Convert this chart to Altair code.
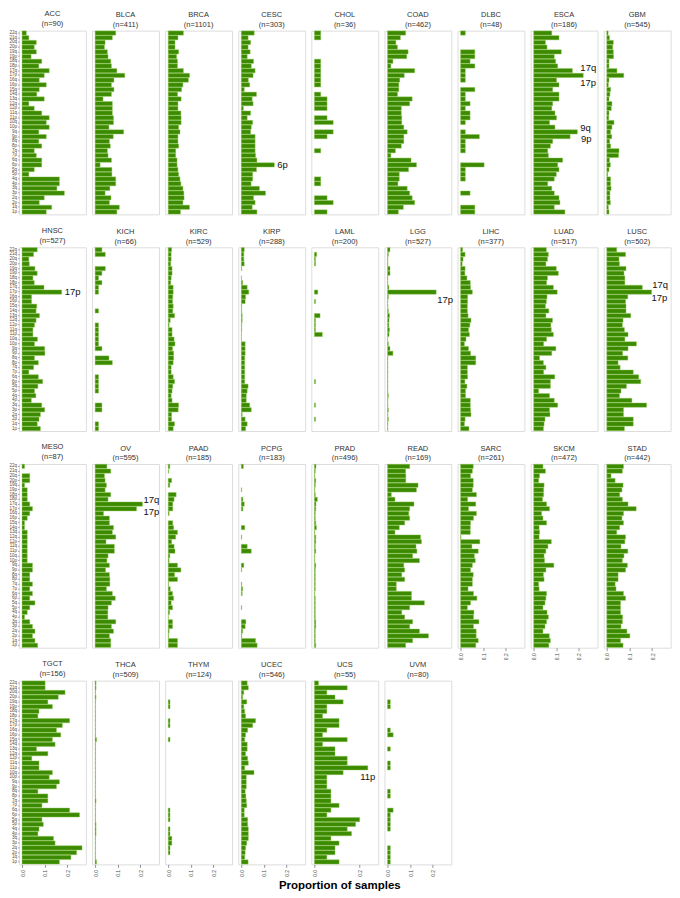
import altair as alt
import pandas as pd

ARMS_TOP = ["22q", "21q", "20q", "20p", "19q", "19p", "18q", "18p", "17q", "17p",
            "16q", "16p", "15q", "14q", "13q", "12q", "12p", "11q", "11p", "10q",
            "10p", "9q", "9p", "8q", "8p", "7q", "7p", "6q", "6p", "5q",
            "5p", "4q", "4p", "3q", "3p", "2q", "2p", "1q", "1p"]

CANCERS = ["ACC", "BLCA", "BRCA", "CESC", "CHOL", "COAD", "DLBC", "ESCA", "GBM",
           "HNSC", "KICH", "KIRC", "KIRP", "LAML", "LGG", "LIHC", "LUAD", "LUSC",
           "MESO", "OV", "PAAD", "PCPG", "PRAD", "READ", "SARC", "SKCM", "STAD",
           "TGCT", "THCA", "THYM", "UCEC", "UCS", "UVM"]
N_SAMPLES = [90, 411, 1101, 303, 36, 462, 48, 186, 545,
             527, 66, 529, 288, 200, 527, 377, 517, 502,
             87, 595, 185, 183, 496, 169, 261, 472, 442,
             156, 509, 124, 546, 55, 80]

# proportions per arm, listed from 22q (top) down to 1p (bottom)
ACC = [0.019, 0.030, 0.063, 0.054, 0.063, 0.040, 0.087, 0.074, 0.120, 0.098,
       0.076, 0.107, 0.076, 0.065, 0.098, 0.030, 0.054, 0.087, 0.120, 0.107,
       0.120, 0.074, 0.107, 0.074, 0.087, 0.054, 0.063, 0.087, 0.087, 0.054,
       0.030, 0.165, 0.165, 0.154, 0.187, 0.098, 0.076, 0.131, 0.107]
BLCA = [0.091, 0.076, 0.044, 0.041, 0.054, 0.057, 0.069, 0.072, 0.096, 0.131,
        0.083, 0.072, 0.083, 0.072, 0.035, 0.076, 0.076, 0.076, 0.081, 0.081,
        0.061, 0.126, 0.080, 0.063, 0.067, 0.054, 0.057, 0.072, 0.022, 0.074,
        0.074, 0.091, 0.091, 0.065, 0.044, 0.070, 0.063, 0.107, 0.096]
BRCA = [0.067, 0.043, 0.030, 0.030, 0.046, 0.037, 0.041, 0.041, 0.067, 0.094,
        0.089, 0.065, 0.059, 0.041, 0.057, 0.043, 0.043, 0.056, 0.057, 0.057,
        0.046, 0.052, 0.043, 0.043, 0.046, 0.033, 0.033, 0.039, 0.039, 0.043,
        0.046, 0.052, 0.056, 0.065, 0.069, 0.070, 0.065, 0.094, 0.054]
CESC = [0.057, 0.030, 0.041, 0.030, 0.039, 0.026, 0.054, 0.044, 0.061, 0.052,
        0.031, 0.037, 0.013, 0.067, 0.048, 0.052, 0.009, 0.041, 0.026, 0.050,
        0.044, 0.041, 0.061, 0.061, 0.061, 0.061, 0.063, 0.069, 0.146, 0.067,
        0.050, 0.050, 0.043, 0.080, 0.107, 0.054, 0.061, 0.048, 0.069]
CHOL = [0.028, 0.028, 0, 0, 0, 0, 0.028, 0.028, 0.028, 0.028,
        0.028, 0.028, 0, 0.028, 0.056, 0.056, 0.056, 0, 0.056, 0.083,
        0, 0.083, 0.056, 0, 0, 0.028, 0, 0, 0, 0,
        0, 0.028, 0.028, 0, 0, 0.056, 0.083, 0, 0.056]
COAD = [0.080, 0.057, 0.037, 0.044, 0.091, 0.085, 0.024, 0.015, 0.120, 0.074,
        0.054, 0.050, 0.050, 0.044, 0.109, 0.098, 0.061, 0.061, 0.063, 0.063,
        0.072, 0.087, 0.072, 0.072, 0.061, 0.035, 0.015, 0.104, 0.128, 0.093,
        0.052, 0.052, 0.046, 0.087, 0.098, 0.109, 0.120, 0.070, 0.048]
DLBC = [0.021, 0, 0, 0, 0.063, 0.063, 0.042, 0.063, 0.021, 0.021,
        0.021, 0, 0.063, 0.021, 0.021, 0.042, 0.021, 0.042, 0.042, 0.021,
        0, 0.021, 0.083, 0.021, 0.021, 0.021, 0, 0, 0.104, 0.021,
        0.021, 0.021, 0, 0, 0.042, 0, 0, 0.063, 0.063]
ESCA = [0.080, 0.112, 0.052, 0.059, 0.122, 0.091, 0.097, 0.106, 0.171, 0.219,
        0.101, 0.112, 0.084, 0.112, 0.112, 0.084, 0.080, 0.094, 0.101, 0.070,
        0.094, 0.193, 0.161, 0.084, 0.074, 0.062, 0.065, 0.128, 0.106, 0.112,
        0.100, 0.091, 0.062, 0.080, 0.091, 0.112, 0.116, 0.091, 0.138]
GBM = [0.006, 0.012, 0.029, 0.026, 0.029, 0.030, 0.010, 0.010, 0.045, 0.075,
       0.010, 0.007, 0.017, 0.014, 0.010, 0.023, 0.020, 0.010, 0.009, 0.032,
       0.023, 0.017, 0.022, 0.013, 0.017, 0.054, 0.052, 0.012, 0.016, 0.010,
       0.004, 0.017, 0.017, 0.019, 0.014, 0.014, 0.016, 0.007, 0.010]
HNSC = [0.067, 0.051, 0.030, 0.032, 0.057, 0.067, 0.048, 0.054, 0.097, 0.175,
        0.042, 0.042, 0.065, 0.062, 0.077, 0.062, 0.055, 0.048, 0.048, 0.068,
        0.055, 0.100, 0.101, 0.055, 0.072, 0.051, 0.030, 0.072, 0.091, 0.070,
        0.055, 0.061, 0.041, 0.087, 0.100, 0.081, 0.075, 0.067, 0.081]
KICH = [0.030, 0.045, 0, 0, 0.045, 0.030, 0.015, 0.030, 0.015, 0.015,
        0, 0, 0, 0.015, 0, 0, 0.015, 0.015, 0.015, 0.015,
        0.015, 0.030, 0, 0.061, 0.076, 0, 0, 0.015, 0.015, 0.015,
        0.015, 0, 0, 0.030, 0.030, 0, 0, 0.015, 0.015]
KIRC = [0.015, 0.013, 0.013, 0.011, 0.017, 0.017, 0.013, 0.011, 0.022, 0.022,
        0.020, 0.019, 0.022, 0.020, 0.028, 0.009, 0.004, 0.017, 0.017, 0.026,
        0.030, 0.019, 0.024, 0.024, 0.022, 0.013, 0.013, 0.022, 0.028, 0.020,
        0.017, 0.013, 0.017, 0.046, 0.044, 0.015, 0.015, 0.028, 0.022]
KIRP = [0.013, 0.011, 0.011, 0.013, 0.002, 0, 0.001, 0.006, 0.026, 0.033,
        0.019, 0.017, 0.002, 0.002, 0.004, 0.004, 0.002, 0.002, 0.001, 0.001,
        0.017, 0.017, 0.017, 0.015, 0.015, 0.015, 0.015, 0.015, 0.015, 0.030,
        0.026, 0.022, 0.022, 0.037, 0.044, 0.004, 0.017, 0.026, 0.019]
LAML = [0, 0.010, 0.005, 0.005, 0, 0, 0, 0, 0, 0.015,
        0, 0.005, 0, 0, 0.025, 0.005, 0.005, 0.005, 0.035, 0,
        0, 0, 0, 0, 0, 0, 0, 0, 0.005, 0,
        0, 0, 0, 0.005, 0, 0, 0.005, 0, 0]
LGG = [0.011, 0.004, 0.002, 0.002, 0.011, 0.011, 0.002, 0.002, 0.006, 0.215,
       0.004, 0.002, 0.002, 0.004, 0.009, 0.007, 0.006, 0.009, 0.007, 0.001,
       0.004, 0.011, 0.024, 0.002, 0.002, 0.002, 0.002, 0.002, 0.002, 0.002,
       0.002, 0.004, 0.002, 0.002, 0.004, 0.002, 0.004, 0.002, 0.002]
LIHC = [0.009, 0.020, 0.011, 0.007, 0.020, 0.019, 0.028, 0.043, 0.044, 0.052,
        0.031, 0.031, 0.030, 0.030, 0.033, 0.046, 0.041, 0.035, 0.039, 0.024,
        0.017, 0.035, 0.044, 0.067, 0.067, 0.030, 0.030, 0.031, 0.019, 0.028,
        0.022, 0.022, 0.043, 0.043, 0.044, 0.046, 0.020, 0.017, 0.037]
LUAD = [0.056, 0.065, 0.061, 0.054, 0.100, 0.109, 0.061, 0.057, 0.087, 0.104,
        0.059, 0.056, 0.052, 0.067, 0.054, 0.083, 0.076, 0.078, 0.087, 0.057,
        0.044, 0.098, 0.080, 0.026, 0.043, 0.054, 0.044, 0.093, 0.074, 0.074,
        0.022, 0.070, 0.091, 0.106, 0.070, 0.072, 0.050, 0.046, 0.043]
LUSC = [0.044, 0.083, 0.054, 0.056, 0.085, 0.076, 0.080, 0.080, 0.157, 0.198,
        0.093, 0.083, 0.085, 0.085, 0.106, 0.072, 0.069, 0.078, 0.094, 0.080,
        0.131, 0.094, 0.070, 0.093, 0.050, 0.059, 0.117, 0.141, 0.150, 0.087,
        0.063, 0.056, 0.111, 0.176, 0.074, 0.074, 0.117, 0.117, 0.078]
MESO = [0.011, 0, 0.034, 0.034, 0.011, 0.023, 0.023, 0.023, 0.034, 0.046,
        0.034, 0.023, 0.011, 0.011, 0.023, 0.023, 0.023, 0.023, 0.023, 0.023,
        0.023, 0.046, 0.046, 0.034, 0.034, 0.046, 0.034, 0.046, 0.034, 0.057,
        0.034, 0.023, 0.011, 0.034, 0.046, 0.057, 0.046, 0.057, 0.069]
OV = [0.052, 0.069, 0.041, 0.044, 0.050, 0.044, 0.069, 0.057, 0.209, 0.183,
      0.037, 0.063, 0.063, 0.081, 0.076, 0.091, 0.048, 0.085, 0.085, 0.057,
      0.052, 0.063, 0.046, 0.063, 0.065, 0.065, 0.050, 0.076, 0.089, 0.072,
      0.057, 0.056, 0.056, 0.091, 0.072, 0.081, 0.063, 0.069, 0.069]
PAAD = [0.007, 0.002, 0, 0.015, 0.007, 0, 0.035, 0.026, 0.020, 0.020,
        0.004, 0, 0.020, 0.024, 0.041, 0.033, 0.015, 0.026, 0.030, 0.007,
        0.004, 0.041, 0.056, 0.028, 0.041, 0.002, 0.009, 0.019, 0.024, 0.013,
        0.019, 0.006, 0.001, 0.019, 0.019, 0.004, 0.002, 0.041, 0.041]
PCPG = [0.009, 0, 0, 0, 0, 0.002, 0, 0.007, 0.013, 0.007,
        0, 0, 0, 0.015, 0, 0.002, 0, 0.026, 0.044, 0,
        0, 0.011, 0.002, 0, 0, 0.002, 0.006, 0.004, 0, 0,
        0.002, 0, 0, 0.020, 0.017, 0.006, 0.002, 0.063, 0.070]
PRAD = [0.007, 0.004, 0.002, 0.006, 0.004, 0.002, 0.004, 0.013, 0.007, 0.006,
        0.004, 0.004, 0.006, 0.009, 0.002, 0.006, 0.006, 0.004, 0.006, 0.002,
        0.002, 0.006, 0.004, 0.004, 0.004, 0.004, 0.004, 0.002, 0.004, 0.004,
        0.004, 0.004, 0.004, 0.006, 0.006, 0.004, 0.004, 0.004, 0.006]
READ = [0.098, 0.080, 0.081, 0.081, 0.135, 0.128, 0.017, 0.033, 0.117, 0.098,
        0.094, 0.098, 0.076, 0.052, 0.033, 0.146, 0.150, 0.126, 0.130, 0.111,
        0.141, 0.072, 0.076, 0.063, 0.076, 0.039, 0.039, 0.106, 0.106, 0.163,
        0.098, 0.063, 0.076, 0.111, 0.098, 0.141, 0.181, 0.111, 0.080]
SARC = [0.056, 0.052, 0.044, 0.056, 0.056, 0.052, 0.070, 0.031, 0.067, 0.035,
        0.070, 0.057, 0.044, 0.043, 0.043, 0.002, 0.085, 0.050, 0.078, 0.061,
        0.065, 0.052, 0.044, 0.056, 0.052, 0.052, 0.033, 0.057, 0.072, 0.044,
        0.030, 0.059, 0.057, 0.081, 0.057, 0.069, 0.069, 0.078, 0.067]
SKCM = [0.041, 0.052, 0.026, 0.022, 0.046, 0.044, 0.044, 0.039, 0.057, 0.070,
        0.035, 0.041, 0.057, 0.024, 0.026, 0.024, 0.078, 0.063, 0.054, 0.046,
        0.048, 0.089, 0.054, 0.043, 0.046, 0.022, 0.024, 0.057, 0.054, 0.050,
        0.041, 0.059, 0.065, 0.057, 0.050, 0.041, 0.069, 0.074, 0.067]
STAD = [0.074, 0.069, 0.019, 0.037, 0.072, 0.067, 0.057, 0.069, 0.094, 0.130,
        0.074, 0.067, 0.074, 0.057, 0.044, 0.083, 0.080, 0.063, 0.093, 0.076,
        0.069, 0.091, 0.083, 0.050, 0.050, 0.037, 0.041, 0.074, 0.083, 0.061,
        0.061, 0.061, 0.070, 0.069, 0.063, 0.089, 0.102, 0.061, 0.072]
TGCT = [0.102, 0.102, 0.190, 0.160, 0.114, 0.134, 0.075, 0.070, 0.210, 0.178,
        0.152, 0.171, 0.134, 0.146, 0.064, 0.114, 0.043, 0.075, 0.075, 0.134,
        0.120, 0.165, 0.152, 0.070, 0.114, 0.114, 0.088, 0.210, 0.254, 0.088,
        0.094, 0.075, 0.070, 0.139, 0.146, 0.265, 0.241, 0.216, 0.165]
THCA = [0.004, 0.004, 0.002, 0.004, 0.002, 0.002, 0.002, 0.002, 0.002, 0.002,
        0.002, 0.002, 0.006, 0.002, 0.002, 0.002, 0.002, 0.002, 0.002, 0.002,
        0.002, 0.002, 0.002, 0.002, 0.002, 0.004, 0.002, 0.002, 0.002, 0.002,
        0.004, 0.004, 0.004, 0.002, 0.002, 0.002, 0.002, 0.002, 0.006]
THYM = [0, 0, 0, 0, 0.008, 0.008, 0, 0, 0.008, 0.008,
        0, 0, 0.008, 0, 0, 0, 0, 0, 0, 0,
        0, 0, 0, 0, 0, 0, 0, 0.008, 0.008, 0.008,
        0, 0.008, 0.008, 0.016, 0.016, 0.008, 0.008, 0, 0]
UCEC = [0.026, 0.031, 0.011, 0.006, 0.024, 0.011, 0.015, 0.019, 0.063, 0.050,
        0.028, 0.019, 0.015, 0.026, 0.026, 0.019, 0.028, 0.031, 0.015, 0.056,
        0.022, 0.022, 0.022, 0.017, 0.020, 0.022, 0.024, 0.013, 0.013, 0.028,
        0.028, 0.031, 0.031, 0.031, 0.024, 0.019, 0.017, 0.015, 0.030]
UCS = [0.018, 0.145, 0.055, 0.091, 0.127, 0.055, 0.055, 0.036, 0.109, 0.109,
       0.055, 0.036, 0.145, 0.036, 0.091, 0.091, 0.145, 0.145, 0.236, 0.127,
       0.055, 0.055, 0.055, 0.073, 0.073, 0.073, 0.109, 0.073, 0.055, 0.200,
       0.182, 0.145, 0.164, 0.073, 0.109, 0.091, 0.091, 0.055, 0.109]
UVM = [0, 0, 0, 0, 0.0125, 0.0125, 0, 0, 0, 0,
       0.0125, 0.025, 0, 0, 0.0125, 0, 0, 0.0125, 0.0125, 0,
       0, 0, 0, 0.0125, 0.0125, 0, 0, 0.025, 0.0125, 0.0125,
       0.0125, 0.0125, 0, 0, 0, 0.0125, 0.0125, 0.0125, 0.0125]

SERIES = [ACC, BLCA, BRCA, CESC, CHOL, COAD, DLBC, ESCA, GBM,
          HNSC, KICH, KIRC, KIRP, LAML, LGG, LIHC, LUAD, LUSC,
          MESO, OV, PAAD, PCPG, PRAD, READ, SARC, SKCM, STAD,
          TGCT, THCA, THYM, UCEC, UCS, UVM]

# annotated arms: (cancer, arm)
LABELLED = [("CESC", "6p"), ("ESCA", "17q"), ("ESCA", "17p"), ("ESCA", "9q"),
            ("ESCA", "9p"), ("HNSC", "17p"), ("LGG", "17p"), ("LUSC", "17q"),
            ("LUSC", "17p"), ("OV", "17q"), ("OV", "17p"), ("UCS", "11p")]
# text placement (align, dx, dy) for each annotation, in the same order
LABEL_STYLE = [("left", 3, 0), ("left", 8, -2.5), ("left", -3, 7.5), ("left", 3, -3.5),
               ("left", 11, 2.5), ("left", 3, 0), ("left", 1, 8), ("left", 10, -2.5),
               ("left", 0, 5.5), ("left", 1, -4), ("left", 7, 3.5), ("center", 0, 9)]

rows = []
for c, vals in zip(CANCERS, SERIES):
    assert len(vals) == len(ARMS_TOP), c
    for a, v in zip(ARMS_TOP, vals):
        rows.append({"cancer": c, "arm": a, "value": v})
df = pd.DataFrame(rows)

FONT = "Liberation Sans"
NCOL = 9
W, H = 67, 184

Y_AXIS = alt.Axis(title=None, labelFontSize=4.5, labelColor="#4d4d4d",
                  labelFont=FONT, tickSize=1.5, tickColor="#4d4d4d",
                  tickWidth=0.5, labelPadding=1, domain=False, labelOverlap=False)
X_AXIS = alt.Axis(title=None, values=[0, 0.1, 0.2], format=".1f",
                  labelAngle=270, labelFontSize=5, labelColor="#4d4d4d",
                  labelFont=FONT, tickSize=3, tickColor="#4d4d4d",
                  tickWidth=0.6, labelPadding=2, domain=False, grid=False)
X_SCALE = alt.Scale(domain=[-0.0135, 0.282], zero=False, nice=False)
Y_SCALE = alt.Scale(domain=ARMS_TOP, paddingInner=0.1, paddingOuter=0.06)

cells = []
for i, (c, n) in enumerate(zip(CANCERS, N_SAMPLES)):
    show_y = (i % NCOL == 0)
    show_x = (i + NCOL >= len(CANCERS))
    sub = df[df["cancer"] == c]
    bars = alt.Chart(sub).mark_bar(
        fill="#3b8a00", stroke="#8cc653", strokeWidth=0.45
    ).transform_filter(alt.datum.value > 0).encode(
        y=alt.Y("arm:N", sort=ARMS_TOP, scale=Y_SCALE,
                axis=Y_AXIS if show_y else None),
        x=alt.X("value:Q", scale=X_SCALE, axis=X_AXIS if show_x else None),
        x2=alt.datum(0),
    )
    layers = [bars]
    for (lc, la), (al, dx, dy) in zip(LABELLED, LABEL_STYLE):
        if lc != c:
            continue
        layers.append(
            alt.Chart(sub).mark_text(align=al, baseline="middle", dx=dx, dy=dy,
                                     fontSize=9.5, font=FONT, color="#111111")
            .transform_filter(alt.datum.arm == la)
            .encode(y=alt.Y("arm:N", sort=ARMS_TOP, scale=Y_SCALE),
                    x=alt.X("value:Q", scale=X_SCALE), text="arm:N")
        )
    cell = alt.layer(*layers).properties(
        width=W, height=H,
        title=alt.TitleParams([c, f"(n={n})"], fontSize=7.5, font=FONT,
                              color="#333333", fontWeight="normal",
                              anchor="middle", offset=2, lineHeight=10),
    )
    cells.append(cell)

chart = alt.concat(*cells, columns=NCOL, spacing={"row": 33, "column": 6.2},
                   bounds="flush").properties(
    title=alt.TitleParams("Proportion of samples", orient="bottom", anchor="middle",
                          fontSize=11.5, fontWeight="bold", font=FONT,
                          color="#000000", offset=3),
    padding={"left": 0, "right": 0, "top": 0, "bottom": 2},
).configure_view(
    stroke="#7f7f7f", strokeWidth=1.1
).configure(background="white")

chart.save("out.html", embed_options={"renderer": "svg", "actions": False})
